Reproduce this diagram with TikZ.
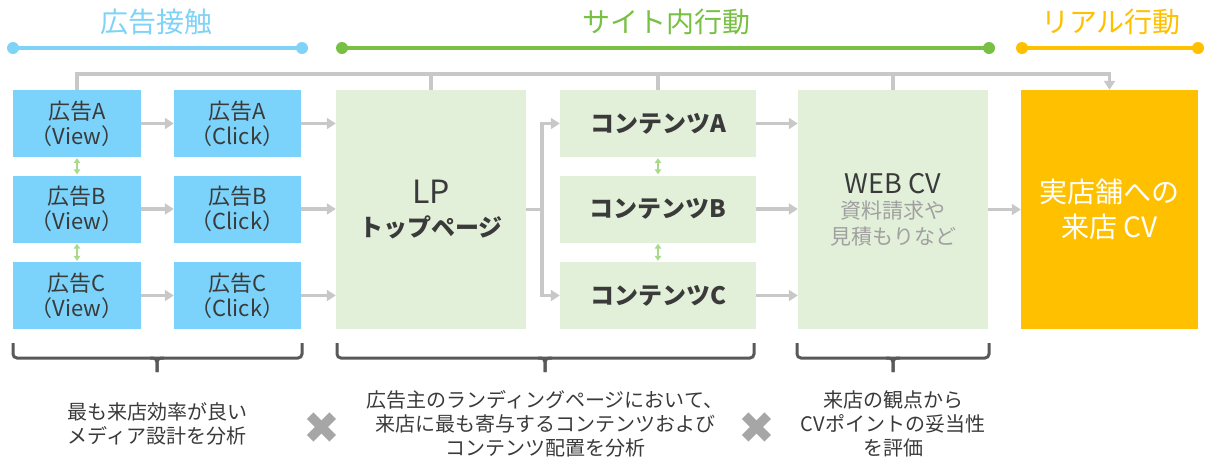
\documentclass[tikz,border=0pt]{standalone}
\usepackage{fontspec}
\setmainfont{Noto Sans CJK JP}
\newfontfamily\symfont{DejaVu Sans}
\usetikzlibrary{arrows.meta,calc}
\definecolor{hblue}{HTML}{7FD3F7}
\definecolor{adblue}{HTML}{7BD3FB}
\definecolor{hgreen}{HTML}{78C043}
\definecolor{lgreen}{HTML}{E2EFD9}
\definecolor{orng}{HTML}{FFC000}
\definecolor{gline}{HTML}{C8C8C8}
\definecolor{txt}{HTML}{3A3A3A}
\definecolor{txtgray}{HTML}{A0A0A0}
\definecolor{brkc}{HTML}{595959}
\definecolor{crossc}{HTML}{A6A6A6}
\definecolor{dgreen}{HTML}{A8DA8B}
\newcommand\mybracket[3]{%
  \draw[brkline, rounded corners=4pt] (#1,343) -- (#1,358) -- (#2,358) -- (#2,343);
  \draw[brkline, rounded corners=4pt] (#3-7,358) -| (#3,372);
  \draw[brkline, rounded corners=4pt] (#3+7,358) -| (#3,372);
}
\begin{document}
\begin{tikzpicture}[x=1pt,y=-1pt,
  htext/.style={font=\fontsize{28}{30}\selectfont, inner sep=0pt},
  hline/.style={line width=4pt},
  adbox/.style={fill=adblue, minimum width=128pt, minimum height=67pt, inner sep=0pt,
    text=txt, align=center, font=\fontsize{22}{25}\selectfont},
  gbox/.style={fill=lgreen, inner sep=0pt, text=txt, align=center},
  ctbox/.style={gbox, minimum width=196pt, minimum height=67pt, font=\bfseries\fontsize{24}{28}\selectfont},
  bigbox/.style={gbox, minimum width=190pt, minimum height=239pt},
  gl/.style={draw=gline, line width=3.5pt},
  garr/.style={gl, -{Triangle[length=9pt,width=11pt]}},
  darr/.style={draw=dgreen, line width=1.6pt, {Triangle[length=5pt,width=6.5pt]}-{Triangle[length=5pt,width=6.5pt]}, shorten <=1pt, shorten >=1pt},
  brkline/.style={draw=brkc, line width=3pt},
  btext/.style={text=txt, align=center, font=\fontsize{20}{24}\selectfont, inner sep=0pt},
  crossmark/.style={text=crossc, font=\symfont\fontsize{44}{44}\selectfont, inner sep=0pt}
]
\useasboundingbox (0,0) rectangle (1208,459);

% headers
\node[htext, text=hblue] (h1) at (156,22) {広告接触};
\node[htext, text=hgreen] (h2) at (666,22) {サイト内行動};
\node[htext, text=orng] (h3) at (1111,22) {リアル行動};
\coordinate (b1) at (13,48); \coordinate (b2) at (302,48);
\coordinate (g1) at (342,48); \coordinate (g2) at (989,48);
\coordinate (o1) at (1022,48); \coordinate (o2) at (1198,48);
\draw[hline, hblue] (b1) -- (b2);
\fill[hblue] (b1) circle (6pt) (b2) circle (6pt);
\draw[hline, hgreen] (g1) -- (g2);
\fill[hgreen] (g1) circle (6pt) (g2) circle (6pt);
\draw[hline, orng] (o1) -- (o2);
\fill[orng] (o1) circle (6pt) (o2) circle (6pt);

% ad boxes
\node[adbox] (vA) at (77,123.5) {広告A\\（View）};
\node[adbox] (vB) at (77,209) {広告B\\（View）};
\node[adbox] (vC) at (77,295.5) {広告C\\（View）};
\node[adbox, minimum width=127pt] (cA) at (237.5,123.5) {広告A\\（Click）};
\node[adbox, minimum width=127pt] (cB) at (237.5,209) {広告B\\（Click）};
\node[adbox, minimum width=127pt] (cC) at (237.5,295.5) {広告C\\（Click）};

% LP
\node[bigbox, font=\fontsize{24}{33}\selectfont] (lp) at (431,209.5)
  {{\fontsize{32}{33}\selectfont LP}\\{\bfseries トップページ}};
% contents
\node[ctbox] (ctA) at (658,123.5) {コンテンツA};
\node[ctbox] (ctB) at (658,209) {コンテンツB};
\node[ctbox] (ctC) at (658,295.5) {コンテンツC};
% web cv
\node[bigbox, font=\fontsize{21}{25.5}\selectfont] (web) at (893,209.5)
  {{\fontsize{27}{30}\selectfont WEB CV}\\{\color{txtgray}資料請求や}\\{\color{txtgray}見積もりなど}};
% real
\node[gbox, fill=orng, text=white, minimum width=177pt, minimum height=239pt,
  font=\fontsize{28}{35}\selectfont] (real) at (1109.5,209.5) {実店舗への\\来店 CV};

% top connector
\coordinate (tr) at (0,74);
\draw[garr] (vA.north) |- (real.north |- tr) -- (real.north);
\draw[gl] (lp.north) -- (lp.north |- tr);
\draw[gl] (ctA.north) -- (ctA.north |- tr);
\draw[gl] (web.north) -- (web.north |- tr);

% row arrows
\draw[garr] (vA.east) -- (cA.west);
\draw[garr] (vB.east) -- (cB.west);
\draw[garr] (vC.east) -- (cC.west);
\draw[garr] (cA.east) -- (lp.west |- cA.east);
\draw[garr] (cB.east) -- (lp.west |- cB.east);
\draw[garr] (cC.east) -- (lp.west |- cC.east);
\coordinate (jn) at ($(lp.east)+(16,0)$);
\draw[gl] (lp.east) -- (jn);
\draw[garr] (jn) |- (ctA.west);
\draw[garr] (jn) |- (ctC.west);
\draw[garr] (ctA.east) -- (web.west |- ctA.east);
\draw[garr] (ctB.east) -- (web.west |- ctB.east);
\draw[garr] (ctC.east) -- (web.west |- ctC.east);
\draw[garr] (web.east) -- (real.west);

% green double arrows
\draw[darr] (vA.south) -- (vB.north);
\draw[darr] (vB.south) -- (vC.north);
\draw[darr] (ctA.south) -- (ctB.north);
\draw[darr] (ctB.south) -- (ctC.north);

% brackets
\mybracket{13}{302}{157}
\mybracket{337}{754}{545}
\mybracket{797}{989}{893}

% bottom texts
\node[btext] (t1) at (157,424) {最も来店効率が良い\\メディア設計を分析};
\node[btext] (t2) at (545,424) {広告主のランディングページにおいて、\\来店に最も寄与するコンテンツおよび\\コンテンツ配置を分析};
\node[btext] (t3) at (893,424) {来店の観点から\\CVポイントの妥当性\\を評価};
\node[crossmark] (x1) at (322,428) {✖};
\node[crossmark] (x2) at (757,428) {✖};
\end{tikzpicture}
\end{document}
